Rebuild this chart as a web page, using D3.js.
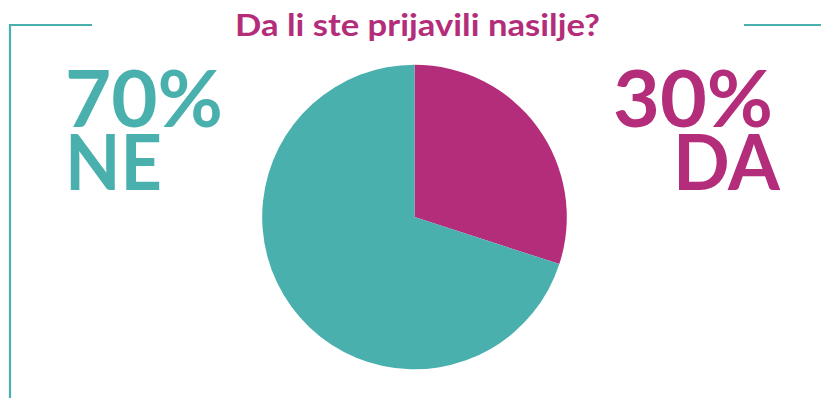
<!DOCTYPE html>
<html>
<head>
<meta charset="utf-8">
<script src="https://cdn.jsdelivr.net/npm/d3@7"></script>
<style>
  html, body { margin: 0; padding: 0; background: #fff; }
  svg { display: block; }
  text { font-family: Lato, "Open Sans", sans-serif; font-weight: 700; }
</style>
</head>
<body>
<svg id="chart" width="821" height="398"></svg>
<script>
const title = "Da li ste prijavili nasilje?";
const categories = ["DA", "NE"];
const values = [30, 70];
const colors = ["#B32D7A", "#4AB0AE"];

const svg = d3.select("#chart");
const W = 821, H = 398;

// decorative frame lines
const teal = colors[1];
svg.append("path")
  .attr("d", "M92,25 H10 V398")
  .attr("fill", "none").attr("stroke", teal).attr("stroke-width", 2.2);
svg.append("line")
  .attr("x1", 744).attr("x2", 821).attr("y1", 25).attr("y2", 25)
  .attr("stroke", teal).attr("stroke-width", 2.2);

// title
svg.append("text")
  .attr("x", 235).attr("y", 36)
  .attr("fill", colors[0])
  .attr("font-size", 31)
  .attr("textLength", 365).attr("lengthAdjust", "spacingAndGlyphs")
  .text(title);

// pie
const cx = 414.5, cy = 217, r = 152.3;
const pie = d3.pie().sort(null).value(d => d.value);
const arc = d3.arc().innerRadius(0).outerRadius(r);
const data = categories.map((c, i) => ({ cat: c, value: values[i], color: colors[i] }));
svg.append("g").attr("transform", `translate(${cx},${cy})`)
  .selectAll("path").data(pie(data)).join("path")
  .attr("d", arc).attr("fill", d => d.data.color);

// big labels
const fmt = d => d + "%";
// NE (left)
const left = svg.append("g").attr("fill", colors[1]);
left.append("text").attr("x", 65).attr("y", 127).attr("font-size", 79)
  .attr("textLength", 158).attr("lengthAdjust", "spacingAndGlyphs")
  .text(fmt(values[1]));
left.append("text").attr("x", 65).attr("y", 190).attr("font-size", 77)
  .attr("textLength", 97).attr("lengthAdjust", "spacingAndGlyphs")
  .text(categories[1]);
// DA (right)
const right = svg.append("g").attr("fill", colors[0]);
right.append("text").attr("x", 613).attr("y", 127).attr("font-size", 79)
  .attr("textLength", 160).attr("lengthAdjust", "spacingAndGlyphs")
  .text(fmt(values[0]));
right.append("text").attr("x", 673).attr("y", 190).attr("font-size", 77)
  .attr("textLength", 107).attr("lengthAdjust", "spacingAndGlyphs")
  .text(categories[0]);
</script>
</body>
</html>
